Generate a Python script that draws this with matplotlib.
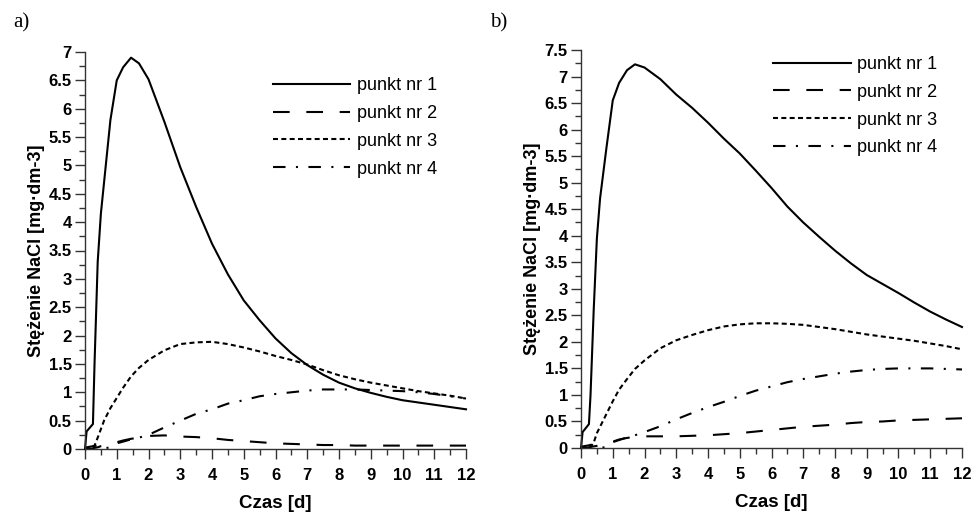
import matplotlib
matplotlib.use("Agg")
import matplotlib.pyplot as plt
from matplotlib.ticker import MultipleLocator

# ---- data ----
t = [0, 0.05, 0.25, 0.3, 0.4, 0.5, 0.6, 0.8, 1.0, 1.2, 1.45, 1.7, 2.0,
     2.5, 3, 3.5, 4, 4.5, 5, 5.5, 6, 6.5, 7,
     7.5, 8, 8.5, 9, 9.5, 10, 10.5, 11, 11.5, 12]

a_p1 = [0, 0.31, 0.44, 1.5, 3.3, 4.15, 4.7, 5.8, 6.5, 6.73, 6.9, 6.8, 6.52,
        5.77, 4.97, 4.27, 3.62, 3.08, 2.62, 2.27, 1.95, 1.69, 1.48,
        1.31, 1.17, 1.07, 0.99, 0.92, 0.86, 0.82, 0.78, 0.74, 0.70]
a_p2 = [0, 0, 0.01, 0.02, 0.03, 0.05, 0.06, 0.09, 0.12, 0.15, 0.18, 0.2, 0.23,
        0.24, 0.22, 0.21, 0.19, 0.16, 0.14, 0.12, 0.1, 0.09, 0.08,
        0.07, 0.07, 0.06, 0.06, 0.06, 0.06, 0.06, 0.06, 0.06, 0.06]
a_p3 = [0, 0, 0.02, 0.06, 0.2, 0.35, 0.5, 0.72, 0.9, 1.08, 1.28, 1.43, 1.57,
        1.74, 1.85, 1.88, 1.89, 1.85, 1.79, 1.72, 1.64, 1.57, 1.49,
        1.39, 1.3, 1.23, 1.17, 1.12, 1.07, 1.02, 0.98, 0.94, 0.89]
a_p4 = [0, 0.03, 0.05, 0.06, 0.05, 0.03, 0.01, 0.03, 0.1, 0.13, 0.17, 0.2, 0.25,
        0.38, 0.5, 0.62, 0.7, 0.8, 0.86, 0.93, 0.97, 1.0, 1.03,
        1.05, 1.05, 1.05, 1.04, 1.03, 1.02, 1.0, 0.97, 0.93, 0.89]

b_p1 = [0, 0.3, 0.45, 1.0, 2.6, 3.95, 4.7, 5.65, 6.55, 6.88, 7.12, 7.23, 7.17,
        6.95, 6.66, 6.41, 6.13, 5.83, 5.55, 5.23, 4.9, 4.55, 4.25,
        3.98, 3.72, 3.48, 3.26, 3.09, 2.92, 2.74, 2.57, 2.42, 2.28]
b_p2 = [0, 0, 0.01, 0.02, 0.03, 0.04, 0.05, 0.08, 0.12, 0.16, 0.19, 0.21, 0.22,
        0.22, 0.22, 0.23, 0.24, 0.26, 0.28, 0.31, 0.34, 0.37, 0.4,
        0.42, 0.44, 0.47, 0.49, 0.5, 0.52, 0.53, 0.54, 0.55, 0.56]
b_p3 = [0, 0, 0, 0.02, 0.1, 0.28, 0.4, 0.64, 0.88, 1.1, 1.3, 1.49, 1.65,
        1.88, 2.03, 2.13, 2.22, 2.29, 2.33, 2.35, 2.35, 2.34, 2.32,
        2.28, 2.24, 2.19, 2.14, 2.1, 2.06, 2.02, 1.97, 1.92, 1.86]
b_p4 = [0, 0.03, 0.05, 0.06, 0.05, 0.03, 0.0, 0.02, 0.11, 0.15, 0.2, 0.24, 0.3,
        0.41, 0.54, 0.66, 0.77, 0.87, 0.98, 1.08, 1.16, 1.24, 1.3,
        1.35, 1.4, 1.44, 1.47, 1.49, 1.5, 1.5, 1.5, 1.49, 1.48]

labels = ["punkt nr 1", "punkt nr 2", "punkt nr 3", "punkt nr 4"]
panel_names = ["a)", "b)"]
x_ticks = list(range(0, 13))
xlabel = "Czas [d]"
ylabel = "Stężenie NaCl [mg·dm-3]"

# ---- style ----
plt.rcParams['font.family'] = ['Liberation Sans', 'DejaVu Sans']
styles = [dict(linestyle='-'),
          dict(linestyle=(0, (8, 8))),
          dict(linestyle=(0, (2.4, 1.6))),
          dict(linestyle=(0, (6, 5, 1, 5)))]

fig = plt.figure(figsize=(9.73, 5.14), dpi=100)
axA = fig.add_axes([85/973, 1-449/514, 381/973, 397/514])
axB = fig.add_axes([581/973, 1-448/514, 381/973, 398/514])

def draw(ax, series, ymax, leg_anchor):
    for s, lab, st in zip(series, labels, styles):
        ax.plot(t, s, color='black', lw=1.5, label=lab, **st, clip_on=False)
    ax.set_xlim(0, 12)
    ax.set_ylim(0, ymax)
    ax.spines['top'].set_visible(False)
    ax.spines['right'].set_visible(False)
    for sp in ('left', 'bottom'):
        ax.spines[sp].set_color('#333333')
        ax.spines[sp].set_linewidth(1.0)
    ax.set_xticks(x_ticks)
    ax.xaxis.set_minor_locator(MultipleLocator(0.5))
    ax.yaxis.set_major_locator(MultipleLocator(0.5))
    ax.yaxis.set_minor_locator(MultipleLocator(0.25))
    ax.yaxis.set_major_formatter(plt.FuncFormatter(lambda v, p: ('%g' % v)))
    ax.tick_params(which='major', direction='out', length=7, width=1,
                   color='#333333', labelsize=12)
    ax.tick_params(axis='x', which='major', pad=6.5)
    ax.tick_params(axis='y', which='major', pad=2.5)
    ax.tick_params(which='minor', direction='out', length=4, width=1,
                   color='#333333')
    for lbl in ax.get_xticklabels() + ax.get_yticklabels():
        lbl.set_fontweight('bold')
    ax.set_xlabel(xlabel, fontsize=13.5, fontweight='bold', labelpad=9)
    ax.set_ylabel(ylabel, fontsize=13, fontweight='bold', labelpad=3)
    ax.legend(loc='upper left', bbox_to_anchor=leg_anchor, frameon=False,
              fontsize=13, handlelength=4.3, handletextpad=0.35,
              labelspacing=0.6, borderpad=0, borderaxespad=0)

draw(axA, [a_p1, a_p2, a_p3, a_p4], 7, (0.493, 0.937))
draw(axB, [b_p1, b_p2, b_p3, b_p4], 7.5, (0.504, 0.985))

fig.text(13/973, 1-23/514, panel_names[0], fontsize=15, family='Liberation Serif',
         ha='left', va='center')
fig.text(490/973, 1-23/514, panel_names[1], fontsize=15, family='Liberation Serif',
         ha='left', va='center')

fig.savefig("out.png", dpi=100, facecolor='white')
